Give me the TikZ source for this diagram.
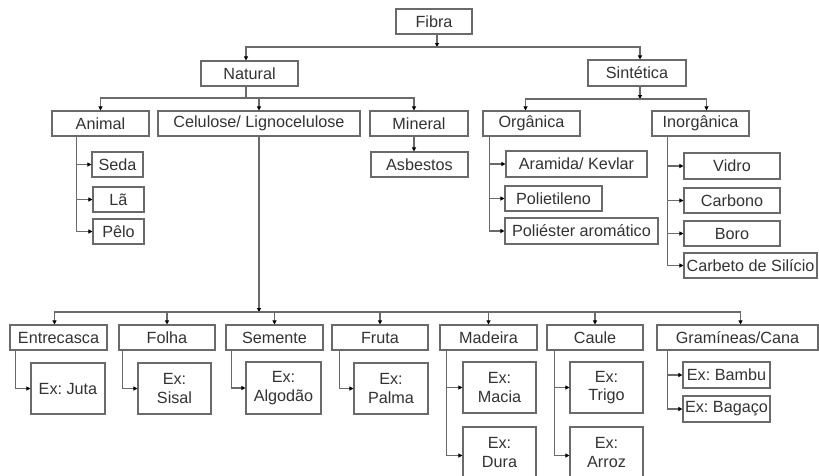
\documentclass[tikz,border=0pt]{standalone}
\usepackage{fontspec}
\setmainfont{Liberation Sans}
\usetikzlibrary{arrows.meta}
\frenchspacing
\definecolor{txt}{HTML}{333333}
\definecolor{ln}{HTML}{6A6A6A}
\tikzset{
  box/.style={draw=ln, line width=1.1pt, inner sep=0pt, align=center, text=txt,
    font=\fontsize{16.2}{18.5}\selectfont},
  conn/.style={draw=ln, line width=1.1pt},
  arr/.style={conn, -{Triangle[length=4pt,width=4pt,color=black]}}
}
\newcommand\mybox[6]{\node[box, minimum width={#4-#2}, minimum height={#5-#3}] (#1) at ({(#2+#4)/2},{(#3+#5)/2}) {#6};}
\begin{document}
\begin{tikzpicture}[x=1pt,y=-1pt]
\useasboundingbox (0,0) rectangle (819,475);
\clip (0,0) rectangle (819,475);
\fill[white] (0,0) rectangle (819,475);
% level 0-1
\mybox{fibra}{396}{9}{472}{34}{Fibra}
\mybox{natural}{201}{61}{298}{86}{Natural}
\mybox{sint}{588}{60}{686}{86}{Sintética}
% natural children
\mybox{animal}{52}{111}{149}{136}{Animal}
\mybox{celul}{158}{111}{360}{136}{Celulose/ Lignocelulose}
\mybox{mineral}{370}{111}{468}{136}{Mineral}
\mybox{asbestos}{371}{152}{468}{177}{Asbestos}
\mybox{seda}{92}{152}{143}{177}{Seda}
\mybox{la}{93}{187}{144}{212}{Lã}
\mybox{pelo}{93}{219}{144}{244}{Pêlo}
% synthetic children
\mybox{organica}{483}{111}{580}{136}{Orgânica}
\mybox{inorg}{652}{111}{749}{136}{Inorgânica}
\mybox{aramida}{506}{151}{647}{177}{Aramida/ Kevlar}
\mybox{polie}{505}{186}{602}{211}{Polietileno}
\mybox{polia}{505}{218}{658}{244}{Poliéster aromático}
\mybox{vidro}{684}{153}{780}{179}{Vidro}
\mybox{carbono}{684}{188}{780}{213}{Carbono}
\mybox{boro}{684}{221}{780}{246}{Boro}
\mybox{carbeto}{684}{253}{817}{278}{Carbeto de Silício}
% bottom row
\mybox{entre}{10}{325}{107}{350}{Entrecasca}
\mybox{folha}{119}{325}{215}{350}{Folha}
\mybox{semente}{226}{325}{323}{350}{Semente}
\mybox{fruta}{332}{325}{428}{350}{Fruta}
\mybox{madeira}{440}{325}{537}{350}{Madeira}
\mybox{caule}{547}{325}{643}{350}{Caule}
\mybox{gram}{657}{325}{818}{350}{Gramíneas/Cana}
\mybox{juta}{31}{363}{105}{414}{Ex: Juta}
\mybox{sisal}{138}{363}{211}{414}{Ex:\\Sisal}
\mybox{algodao}{246}{362}{321}{414}{Ex:\\Algodão}
\mybox{palma}{354}{363}{428}{414}{Ex:\\Palma}
\mybox{macia}{463}{362}{536}{413}{Ex:\\Macia}
\mybox{dura}{463}{427}{536}{478}{Ex:\\Dura}
\mybox{trigo}{570}{362}{643}{413}{Ex:\\Trigo}
\mybox{arroz}{570}{427}{643}{478}{Ex:\\Arroz}
\mybox{bambu}{683}{362}{770}{388}{Ex: Bambu}
\mybox{bagaco}{683}{396}{770}{422}{Ex: Bagaço}
% junctions
\coordinate (fj) at (437,47);
\coordinate (nj) at (246,98);
\coordinate (sj) at (640,99);
\coordinate (cj) at (259,312);
% Fibra
\draw[arr] (fibra.south -| fj) -- (fj);
\draw[arr] (fj) -| (natural.north -| nj);
\draw[arr] (fj) -| (sint.north -| sj);
% Natural
\draw[conn] (natural.south -| nj) -- (nj);
\draw[arr] (nj) -| (animal.north);
\draw[arr] (nj) -| (celul.north);
\draw[arr] (nj) -| ([xshift=-5pt]mineral.north);
\draw[arr] ([xshift=-5pt]mineral.south) -- ([xshift=-5pt]mineral.south |- asbestos.north);
\draw[arr] ([xshift=25pt]animal.south west) |- (seda.west);
\draw[arr] ([xshift=25pt]animal.south west) |- (la.west);
\draw[arr] ([xshift=25pt]animal.south west) |- (pelo.west);
% Sintetica
\draw[arr] (sint.south -| sj) -- (sj);
\draw[arr] (sj) -| ([xshift=-6pt]organica.north);
\draw[arr] (sj) -| ([xshift=6pt]inorg.north);
\draw[arr] ([xshift=7pt]organica.south west) |- (aramida.west);
\draw[arr] ([xshift=7pt]organica.south west) |- (polie.west);
\draw[arr] ([xshift=7pt]organica.south west) |- (polia.west);
\draw[arr] ([xshift=16pt]inorg.south west) |- (vidro.west);
\draw[arr] ([xshift=16pt]inorg.south west) |- (carbono.west);
\draw[arr] ([xshift=16pt]inorg.south west) |- (boro.west);
\draw[arr] ([xshift=16pt]inorg.south west) |- (carbeto.west);
% Celulose
\draw[arr] (celul.south) -- (cj);
\draw[arr] (cj) -| ([xshift=-4pt]entre.north);
\draw[arr] (cj) -| (folha.north);
\draw[arr] (cj) -| (semente.north);
\draw[arr] (cj) -| (fruta.north);
\draw[arr] (cj) -| (madeira.north);
\draw[arr] (cj) -| (caule.north);
\draw[arr] (cj) -| ([xshift=3pt]gram.north);
\draw[arr] ([xshift=6pt]entre.south west) |- (juta.west);
\draw[arr] ([xshift=4pt]folha.south west) |- (sisal.west);
\draw[arr] ([xshift=6pt]semente.south west) |- (algodao.west);
\draw[arr] ([xshift=8pt]fruta.south west) |- (palma.west);
\draw[arr] ([xshift=7pt]madeira.south west) |- (macia.west);
\draw[arr] ([xshift=7pt]madeira.south west) |- ([yshift=-3pt]dura.west);
\draw[arr] ([xshift=8pt]caule.south west) |- (trigo.west);
\draw[arr] ([xshift=8pt]caule.south west) |- ([yshift=-3pt]arroz.west);
\draw[arr] ([xshift=11pt]gram.south west) |- (bambu.west);
\draw[arr] ([xshift=11pt]gram.south west) |- (bagaco.west);
\end{tikzpicture}
\end{document}
